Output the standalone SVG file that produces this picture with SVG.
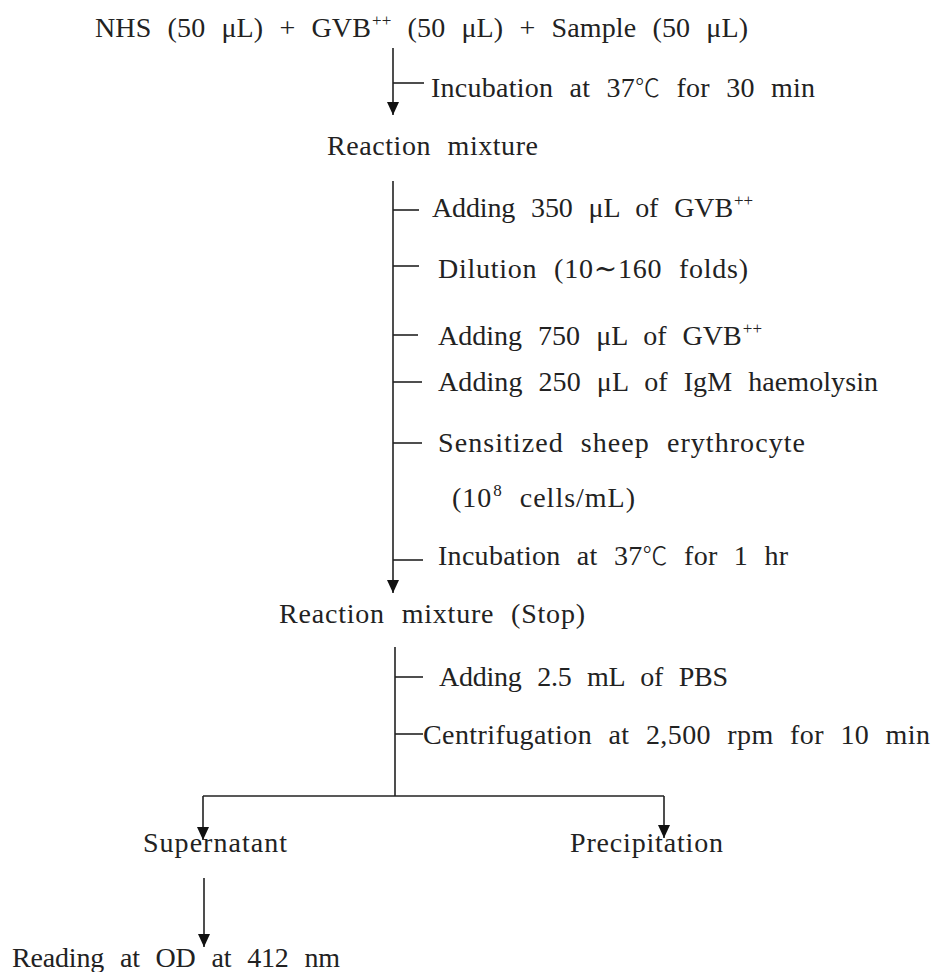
<svg xmlns="http://www.w3.org/2000/svg" width="934" height="972" viewBox="0 0 934 972">
<style>
text{font-family:"Liberation Serif","DejaVu Serif","DejaVu Sans","Noto Sans CJK KR",serif;font-size:28px;fill:#222;word-spacing:9px}
.sup{font-size:17px}
.deg{font-family:"Noto Sans CJK KR","Noto Sans CJK JP","DejaVu Sans",sans-serif;font-size:25px;font-weight:300}
.c line{stroke:#222;stroke-width:1.6;fill:none}
</style>
<defs>
<marker id="ah" viewBox="0 0 13 12" refX="13" refY="6" markerWidth="13" markerHeight="12" markerUnits="userSpaceOnUse" orient="auto">
<path d="M0,0 L13,6 L0,12 z" fill="#111"/>
</marker>
</defs>
<rect width="934" height="972" fill="#fff"/>
<g id="connectors" class="c">
<line x1="393" y1="48" x2="393" y2="115" marker-end="url(#ah)"/>
<line x1="393" y1="83" x2="424" y2="83"/>
<line x1="393" y1="181" x2="393" y2="593" marker-end="url(#ah)"/>
<line x1="393" y1="210" x2="419" y2="210"/>
<line x1="393" y1="266" x2="419" y2="266"/>
<line x1="393" y1="335" x2="418" y2="335"/>
<line x1="393" y1="382" x2="422" y2="382"/>
<line x1="393" y1="443" x2="422" y2="443"/>
<line x1="393" y1="560" x2="423" y2="560"/>
<line x1="395" y1="647" x2="395" y2="796"/>
<line x1="395" y1="677" x2="423" y2="677"/>
<line x1="395" y1="734" x2="423" y2="734"/>
<line x1="203" y1="796" x2="664" y2="796"/>
<line x1="203" y1="796" x2="203" y2="840" marker-end="url(#ah)"/>
<line x1="664" y1="796" x2="664" y2="838" marker-end="url(#ah)"/>
<line x1="204" y1="878" x2="204" y2="947" marker-end="url(#ah)"/>
</g>
<g id="n-start"><text x="95" y="37" textLength="653" lengthAdjust="spacing">NHS (50 μL) + GVB<tspan class="sup" dx="1" dy="-11">++</tspan><tspan dy="11"> (50 μL) + Sample (50 μL)</tspan></text></g>
<g id="s-incub1"><text x="431" y="97" textLength="384" lengthAdjust="spacing">Incubation at 37<tspan class="deg">℃</tspan> for 30 min</text></g>
<g id="n-mix1"><text x="327" y="155" textLength="211" lengthAdjust="spacing">Reaction mixture</text></g>
<g id="s-add350"><text x="432" y="217" textLength="321" lengthAdjust="spacing">Adding 350 μL of GVB<tspan class="sup" dx="1" dy="-11">++</tspan></text></g>
<g id="s-dil"><text x="438" y="278" textLength="310" lengthAdjust="spacing">Dilution (10∼160 folds)</text></g>
<g id="s-add750"><text x="438" y="345" textLength="324" lengthAdjust="spacing">Adding 750 μL of GVB<tspan class="sup" dx="1" dy="-11">++</tspan></text></g>
<g id="s-add250"><text x="438" y="391" textLength="440" lengthAdjust="spacing">Adding 250 μL of IgM haemolysin</text></g>
<g id="s-sens"><text x="438" y="452" textLength="367" lengthAdjust="spacing">Sensitized sheep erythrocyte</text></g>
<g id="s-cells"><text x="452" y="507" textLength="183" lengthAdjust="spacing">(10<tspan class="sup" dx="1" dy="-11">8</tspan><tspan dy="11"> cells/mL)</tspan></text></g>
<g id="s-incub2"><text x="438" y="565" textLength="350" lengthAdjust="spacing">Incubation at 37<tspan class="deg">℃</tspan> for 1 hr</text></g>
<g id="n-mix2"><text x="279" y="623" textLength="306" lengthAdjust="spacing">Reaction mixture (Stop)</text></g>
<g id="s-pbs"><text x="439" y="686" textLength="289" lengthAdjust="spacing">Adding 2.5 mL of PBS</text></g>
<g id="s-cent"><text x="423" y="744" textLength="507" lengthAdjust="spacing">Centrifugation at 2,500 rpm for 10 min</text></g>
<g id="n-super"><text x="143" y="852" textLength="144" lengthAdjust="spacing">Supernatant</text></g>
<g id="n-precip"><text x="570" y="852" textLength="153" lengthAdjust="spacing">Precipitation</text></g>
<g id="n-read"><text x="12" y="967" textLength="328" lengthAdjust="spacing">Reading at OD at 412 nm</text></g>
</svg>
